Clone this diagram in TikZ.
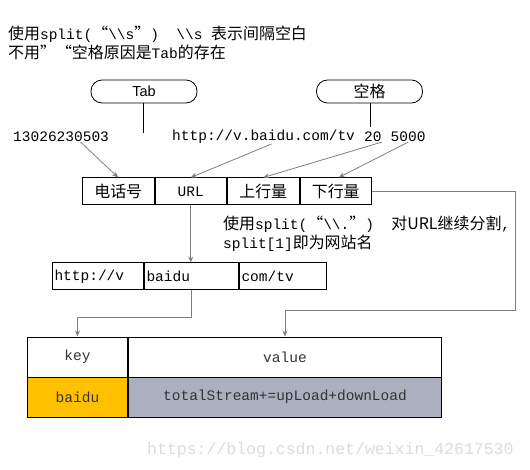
\documentclass[tikz,border=0pt]{standalone}
\usepackage{fontspec}
\setmainfont{Liberation Mono}
\newfontfamily\cjk[Scale=1.1]{Noto Sans CJK SC}
\newfontfamily\sansf{Liberation Sans}
\usetikzlibrary{arrows.meta,positioning}
\definecolor{arrgray}{HTML}{7F7F7F}
\definecolor{keyorange}{HTML}{FFC000}
\definecolor{valgray}{HTML}{ACB0BE}
\definecolor{markgray}{HTML}{DCDCDC}
\definecolor{textdark}{HTML}{333333}
\newcommand{\zh}[1]{{\cjk #1}}
\newcommand{\bs}{\textbackslash}
\tikzset{
  txt/.style={font=\fontsize{14.5}{19}\selectfont, inner sep=0pt, align=left},
  pill/.style={draw, line width=0.8pt, rounded corners=11pt, minimum width=106pt, minimum height=23pt,
               inner sep=0pt, font=\fontsize{14.5}{17}\selectfont},
  cell/.style={draw, line width=1pt, minimum height=27pt, inner sep=0pt, anchor=west,
               font=\fontsize{14.5}{17}\selectfont},
  lcell/.style={cell, align=left, inner xsep=2pt},
  kcell/.style={cell, minimum height=40pt, text=textdark},
  arr/.style={draw=arrgray, line width=0.8pt, -{Stealth[length=6pt,width=5pt]}},
  stem/.style={line width=0.8pt},
}
\begin{document}
\begin{tikzpicture}[x=1pt, y=-1pt]
  \useasboundingbox (0,0) rectangle (530,470);
  % explanation at the top
  \node[txt, anchor=west] (intro) at (8,42.5) {\zh{使用}split(\zh{“}\bs\bs s\zh{”})\ \ \bs\bs s \zh{表示间隔空白}\\\zh{不用”“空格原因是}Tab\zh{的存在}};
  % separators
  \node[pill] (tab) at (144,91.5) {\sansf Tab};
  \node[pill] (space) at (369.5,91.5) {\zh{空格}};
  \coordinate (tabend) at (143,133);
  \coordinate (spaceend) at (370,127);
  \draw[stem] (tab.south -| tabend) -- (tabend);
  \draw[stem] (space.south -| spaceend) -- (spaceend);
  % one input line
  \node[txt, anchor=west] (num) at (13,137) {13026230503};
  \node[txt, anchor=west] (urltxt) at (172,137) {http://v.baidu.com/tv};
  \node[txt, right=8.8pt of urltxt] (up20) {20};
  \node[txt, right=8.8pt of up20] (down5000) {5000};
  % fields after the first split
  \node[cell, minimum width=71.5pt] (phone) at (82,191.5) {\zh{电话号}};
  \node[cell, minimum width=71.5pt, right=0pt of phone] (url) {URL};
  \node[cell, minimum width=71.5pt, right=0pt of url] (up) {\zh{上行量}};
  \node[cell, minimum width=71.5pt, right=0pt of up] (down) {\zh{下行量}};
  \draw[arr] ([xshift=19.5pt]num.south) -- (phone.north);
  \draw[arr] ([xshift=8pt]urltxt.south) -- (url.north);
  \draw[arr] (up20.south east) -- (up.north);
  \draw[arr] (down5000.south) -- ([xshift=3pt]down.north);
  % second split of the URL
  \node[txt, anchor=west] (splitnote) at (223,234) {\zh{使用}split(\zh{“}\bs\bs.\zh{”})\ \ \zh{对URL继续分割},\\split[1]\zh{即为网站名}};
  \node[lcell, text width=87pt] (httpv) at (52,276.5) {http://v};
  \node[lcell, text width=90pt, right=0pt of httpv] (baidu) {baidu};
  \node[lcell, text width=83pt, right=0pt of baidu] (comtv) {com/tv};
  \draw[arr] (url.south) -- (url.south |- baidu.north);
  % key / value table
  \node[kcell, minimum width=100pt] (key) at (27,357) {key};
  \node[kcell, minimum width=313pt, right=0pt of key] (value) {value};
  \node[kcell, minimum width=100pt, fill=keyorange] (keyval) at (27,397) {baidu};
  \node[kcell, minimum width=313pt, fill=valgray, right=0pt of keyval] (valval) {totalStream+=upLoad+downLoad};
  \draw[arr] (baidu.south) -- ++(0,27) -| (key.north);
  \draw[arr] (down.east) -- ++(143,0) -- ++(0,119) -| (value.north);
  % watermark
  \node[txt, anchor=west, text=markgray, font=\fontsize{16.5}{19}\selectfont] (mark) at (147,450) {https://blog.csdn.net/weixin\_42617530};
\end{tikzpicture}
\end{document}
